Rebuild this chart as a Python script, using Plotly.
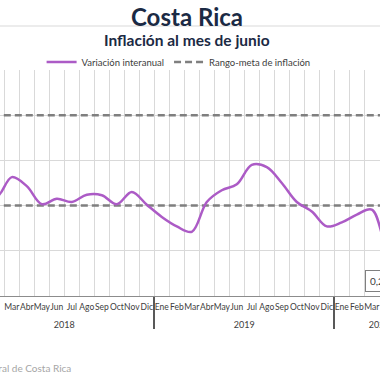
import plotly.graph_objects as go

# ---- data ----
years = ["2018"] * 12 + ["2019"] * 12 + ["2020"] * 6
month_names = ["Ene", "Feb", "Mar", "Abr", "May", "Jun", "Jul", "Ago", "Sep", "Oct", "Nov", "Dic"]
months = month_names + month_names + month_names[:6]
inflation = [2.45, 2.20, 2.63, 2.43, 2.03, 2.15, 2.08, 2.24, 2.23, 2.03, 2.30, 2.02,
             1.75, 1.54, 1.42, 2.08, 2.34, 2.47, 2.90, 2.85, 2.50, 2.08, 1.87, 1.54,
             1.63, 1.80, 1.91, 1.05, 0.60, 0.20]
target_low = [2.0] * len(months)
target_high = [4.0] * len(months)

title = "Costa Rica"
subtitle = "Inflación al mes de junio"
source = "Fuente: Banco Central de Costa Rica"

FONT = "Lato"
NAVY = "#1B2A44"

# positions on the axis: one slot per month
idx = list(range(len(months)))
year_names = sorted(set(years))
year_start = [years.index(y) for y in year_names]
year_end = [len(years) - 1 - years[::-1].index(y) for y in year_names]
year_centers = [(s - 0.5 + e + 0.5) / 2 for s, e in zip(year_start, year_end)]
year_bounds = [s - 0.5 for s in year_start] + [year_end[-1] + 0.5]
month_bounds = [i - 0.5 for i in idx] + [idx[-1] + 0.5]

fig = go.Figure()
fig.add_trace(go.Scatter(x=idx, y=target_high, mode="lines", name="Rango-meta de inflación",
                         line=dict(color="#7F7F7F", width=2.5, dash="7px,4px"),
                         legendrank=2, showlegend=True, hoverinfo="skip"))
fig.add_trace(go.Scatter(x=idx, y=target_low, mode="lines", name="Rango-meta de inflación",
                         line=dict(color="#7F7F7F", width=2.5, dash="7px,4px"),
                         showlegend=False, hoverinfo="skip"))
fig.add_trace(go.Scatter(x=idx, y=inflation, mode="lines", name="Variación interanual",
                         line=dict(color="#AC5BC6", width=2.5, shape="spline", smoothing=1.0),
                         legendrank=1))
# invisible trace to activate the year axis
fig.add_trace(go.Scatter(x=year_centers, y=[None] * len(year_centers), xaxis="x2",
                         showlegend=False, hoverinfo="skip"))

XR = [1.213, 26.547]
fig.update_layout(
    width=380, height=380,
    margin=dict(l=0, r=0, t=70, b=84, autoexpand=False),
    paper_bgcolor="white", plot_bgcolor="white",
    font=dict(family=FONT, color="#404040", size=10),
    showlegend=True,
    legend=dict(orientation="h", x=0.47, xanchor="center", xref="paper",
                y=(296 - 62) / 226, yanchor="middle",
                font=dict(size=9.5, color="#404040", family=FONT),
                itemwidth=30, bgcolor="rgba(0,0,0,0)"),
    xaxis=dict(range=XR, automargin=False, tickangle=0,
               tickmode="array", tickvals=idx, ticktext=months,
               showgrid=False, ticks="", ticklabelstandoff=3, ticklabeloverflow="allow",
               minor=dict(tickmode="array", tickvals=month_bounds, showgrid=True,
                          gridcolor="#D9D9D9", gridwidth=1, ticks=""),
               showline=True, linecolor="#8C8C8C", linewidth=1, zeroline=False,
               tickfont=dict(size=8.5, color="#404040", family=FONT)),
    xaxis2=dict(range=XR, overlaying="x", side="bottom", anchor="y", automargin=False,
                tickangle=0, tickmode="array", tickvals=year_centers, ticktext=year_names,
                showgrid=False, ticks="", ticklabelstandoff=22, zeroline=False,
                ticklabeloverflow="allow",
                minor=dict(tickmode="array", tickvals=year_bounds, showgrid=False,
                           ticks="outside", ticklen=32, tickcolor="#595959", tickwidth=1.5),
                showline=False,
                tickfont=dict(size=9, color="#404040", family=FONT)),
    yaxis=dict(range=[0, 5], dtick=1, showgrid=True, gridcolor="#D9D9D9", gridwidth=1,
               showticklabels=False, zeroline=False, showline=False, ticks="",
               automargin=False),
)

fig.add_annotation(text=f"<b>{title}</b>", xref="paper", yref="paper",
                   x=187 / 380, y=(296 - 17) / 226, xanchor="center", yanchor="middle",
                   showarrow=False, font=dict(size=24, color=NAVY, family=FONT))
fig.add_annotation(text=f"<b>{subtitle}</b>", xref="paper", yref="paper",
                   x=187 / 380, y=(296 - 40) / 226, xanchor="center", yanchor="middle",
                   showarrow=False, font=dict(size=15.5, color=NAVY, family=FONT))
fig.add_shape(type="line", xref="paper", yref="paper", x0=0, x1=1,
              y0=(296 - 26) / 226, y1=(296 - 26) / 226,
              line=dict(color="#D9D9D9", width=1))
fig.add_annotation(text=source, xref="paper", yref="paper",
                   x=73 / 380, y=(296 - 368) / 226, xanchor="right", yanchor="middle",
                   showarrow=False, font=dict(size=10, color="#A6A6A6", family=FONT))
last_label = f"{inflation[-1]:.2f}".replace(".", ",") + "%"
fig.add_annotation(text=last_label, xref="paper", yref="paper",
                   x=365 / 380, y=(296 - 280.5) / 226, xanchor="left", yanchor="middle",
                   showarrow=False, font=dict(size=10, color="#404040", family=FONT),
                   bordercolor="#7F7F7F", borderwidth=1, borderpad=4, bgcolor="white")

fig.write_html("out.html", config={"displayModeBar": False},
               post_script="document.body.style.margin='0';")
